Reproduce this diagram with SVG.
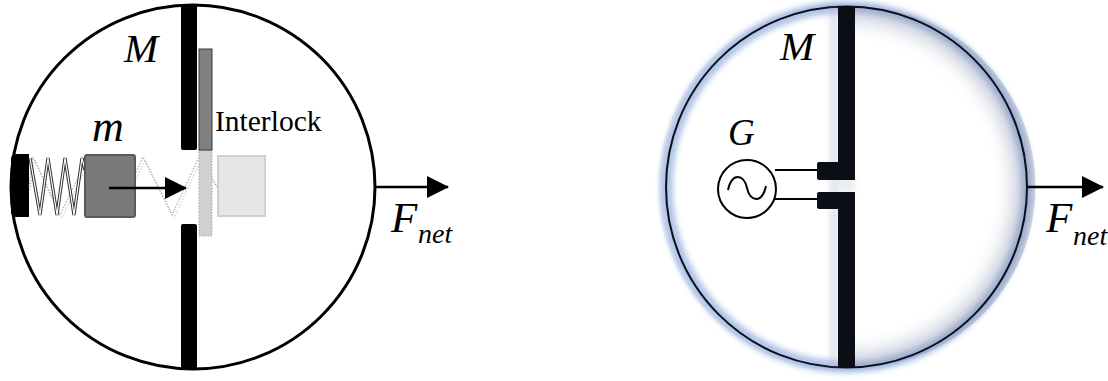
<svg xmlns="http://www.w3.org/2000/svg" width="1108" height="381" viewBox="0 0 1108 381">
  <style>
    .it { font-family: "Liberation Serif", "Times New Roman", serif; font-style: italic; fill: #000; }
    .rm { font-family: "Liberation Serif", "Times New Roman", serif; fill: #000; }
    .rim { fill: none; stroke: #000; }
    .wire { stroke: #000; stroke-width: 2; fill: none; }
    .ghost { fill: none; stroke: #9a9a9a; stroke-width: 1; stroke-dasharray: 1.5 1.5; }
  </style>
  <defs>
    <marker id="head" viewBox="0 0 22 22" refX="21" refY="11" markerWidth="22" markerHeight="22" markerUnits="userSpaceOnUse" orient="auto">
      <path d="M0,0 L22,11 L0,22 Z" fill="#000"/>
    </marker>
    <filter id="glow" x="-20%" y="-20%" width="140%" height="140%">
      <feGaussianBlur stdDeviation="3"/>
    </filter>
    <filter id="soft" x="-20%" y="-20%" width="140%" height="140%">
      <feGaussianBlur stdDeviation="9"/>
    </filter>
    <filter id="haze" x="-100%" y="-20%" width="300%" height="140%">
      <feGaussianBlur stdDeviation="3"/>
    </filter>
    <clipPath id="rightHalf">
      <path d="M855,6.5 A180.5,180.5 0 0 1 855,367.5 Z"/>
    </clipPath>
    <clipPath id="leftHalf">
      <path d="M838,6.5 A180.5,180.5 0 0 0 838,367.5 Z"/>
    </clipPath>
  </defs>

  <!-- ===== Mechanical interlock body ===== -->
  <g id="body-left">
    <circle class="rim" cx="193" cy="187" r="182" stroke-width="3"/>
  </g>

  <g id="frame-left">
    <rect x="181" y="5" width="16" height="145" rx="2" fill="#000"/>
    <rect x="181" y="224" width="16" height="146" rx="2" fill="#000"/>
  </g>

  <g id="wall">
    <path d="M29,154 L16,154 Q11,154 11,159 L11,212 Q11,217 16,217 L29,217 Z" fill="#000"/>
  </g>

  <g id="spring-ghost">
    <polyline class="ghost" points="29,187 33,157 60,215 88,157 116,215 143,157 172,215 199,157 217,187"/>
    <polyline class="ghost" points="30,190 35,160 62,218 90,160 118,218 145,160 174,218 201,160 219,190" opacity="0.6"/>
  </g>

  <g id="spring">
    <polyline points="30,158 40,215 48,158 57,215 65,158 74,215 82,158 85,170" fill="none" stroke="#333" stroke-width="3.2" stroke-linejoin="miter"/>
    <polyline points="30,158 40,215 48,158 57,215 65,158 74,215 82,158 85,170" fill="none" stroke="#fff" stroke-width="1.2" stroke-linejoin="miter"/>
  </g>

  <g id="mass-ghost">
    <rect x="218" y="156" width="47" height="60" fill="#e6e6e6" stroke="#cfcfcf" stroke-width="2"/>
  </g>

  <g id="interlock-ghost">
    <rect x="199" y="150" width="13" height="86" fill="#d0d0d0" stroke="#a8a8a8" stroke-width="1" stroke-dasharray="1.5 1.5"/>
  </g>

  <g id="interlock">
    <rect x="199" y="49" width="13" height="101" fill="#808080" stroke="#3a3a3a" stroke-width="1"/>
    <text class="rm" x="215" y="131" font-size="29.5">Interlock</text>
  </g>

  <g id="mass">
    <rect x="85" y="155" width="50" height="62" rx="2" fill="#7a7a7a" stroke="#5a5a5a" stroke-width="2"/>
    <text class="it" x="92" y="141" font-size="44">m</text>
  </g>

  <g id="label-M-left">
    <text class="it" x="124" y="62" font-size="41">M</text>
  </g>

  <!-- ===== Electrical body ===== -->
  <g id="body-right">
    <!-- blue halo around the rim -->
    <circle cx="846.5" cy="187" r="180.5" fill="none" stroke="#6f93d0" stroke-width="9" opacity="0.75" filter="url(#glow)"/>
    <!-- soft inner shading of the right half -->
    <g clip-path="url(#rightHalf)">
      <circle cx="846.5" cy="187" r="182" fill="none" stroke="#97a2bb" stroke-width="30" opacity="0.55" filter="url(#soft)"/>
    </g>
    <!-- light blue inner tint of the left half -->
    <g clip-path="url(#leftHalf)">
      <circle cx="846.5" cy="187" r="180.5" fill="none" stroke="#b8cbe9" stroke-width="12" opacity="0.7" filter="url(#glow)"/>
    </g>
    <circle cx="846.5" cy="187" r="180.5" fill="none" stroke="#0a0f1a" stroke-width="2"/>
  </g>

  <g id="frame-right">
    <rect x="830" y="8" width="8" height="358" fill="#a7afc2" opacity="0.35" filter="url(#haze)"/>
    <rect x="838" y="178" width="17" height="14" fill="#d0d4da" opacity="0.45" filter="url(#haze)"/>
    <rect x="838" y="6" width="17" height="174" fill="#0b0e16"/>
    <rect x="838" y="192" width="17" height="176" fill="#0b0e16"/>
    <rect x="817" y="162" width="23" height="18" rx="2" fill="#0b0e16"/>
    <rect x="817" y="192" width="23" height="17" rx="2" fill="#0b0e16"/>
  </g>

  <g id="generator">
    <line class="wire" x1="775" y1="170" x2="818" y2="170"/>
    <line class="wire" x1="775" y1="199" x2="818" y2="199"/>
    <circle cx="747" cy="189" r="29" fill="#fff" stroke="#000" stroke-width="2"/>
    <path d="M728,190 C732,172 744,174 747,188 C750,202 762,204 766,186" fill="none" stroke="#000" stroke-width="2"/>
    <text class="it" x="728" y="145" font-size="37">G</text>
  </g>

  <g id="label-M-right">
    <text class="it" x="780" y="60" font-size="41">M</text>
  </g>

  <!-- ===== Connectors ===== -->
  <g id="connectors">
    <line x1="109" y1="188" x2="186" y2="188" stroke="#000" stroke-width="2.5" marker-end="url(#head)"/>
    <line x1="375" y1="187" x2="448" y2="187" stroke="#000" stroke-width="2.5" marker-end="url(#head)"/>
    <line x1="1027" y1="187" x2="1103" y2="187" stroke="#000" stroke-width="2.5" marker-end="url(#head)"/>
  </g>

  <g id="force-labels">
    <text class="it" x="391" y="232" font-size="43">F</text>
    <text class="it" x="418" y="243" font-size="28">net</text>
    <text class="it" x="1046" y="232" font-size="43">F</text>
    <text class="it" x="1073" y="245" font-size="28">net</text>
  </g>
</svg>
